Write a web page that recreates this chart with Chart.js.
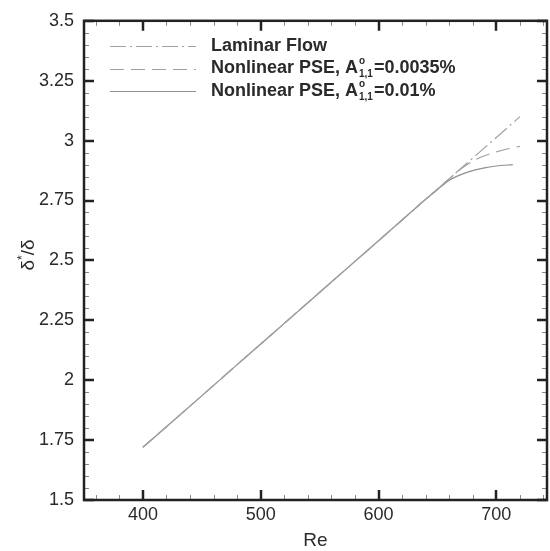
<!DOCTYPE html>
<html><head><meta charset="utf-8">
<script src="https://cdn.jsdelivr.net/npm/chart.js@4"></script>
<style>html,body{margin:0;padding:0;background:#fff;}canvas{display:block;}</style>
</head><body>
<canvas id="c" width="550" height="551"></canvas>
<script>
// ---- data ----
const reLaminar = [400, 440, 480, 520, 560, 600, 640, 660, 680, 700, 720];
const laminar   = [1.72, 1.892, 2.065, 2.237, 2.41, 2.582, 2.755, 2.841, 2.927, 3.013, 3.10];

const reDashed  = [400, 440, 480, 520, 560, 600, 640, 660, 670, 680, 690, 700, 710, 720];
const dashed    = [1.72, 1.892, 2.065, 2.237, 2.41, 2.582, 2.755, 2.841, 2.882, 2.915, 2.937, 2.953, 2.966, 2.976];

const reSolid   = [400, 440, 480, 520, 560, 600, 640, 650, 660, 670, 680, 690, 700, 714];
const solid     = [1.72, 1.892, 2.065, 2.237, 2.41, 2.582, 2.755, 2.795, 2.835, 2.858, 2.875, 2.886, 2.894, 2.90];

const xTicks = [400, 500, 600, 700];
const yTicks = [1.5, 1.75, 2, 2.25, 2.5, 2.75, 3, 3.25, 3.5];
const xRange = [350, 743];
const yRange = [1.5, 3.5];

const legendItems = [
  {main: 'Laminar Flow'},
  {main: 'Nonlinear PSE, A', sup: 'o', sub: '1,1', tail: '=0.0035%'},
  {main: 'Nonlinear PSE, A', sup: 'o', sub: '1,1', tail: '=0.01%'}
];

const toXY = (xs, ys) => xs.map((x, i) => ({x, y: ys[i]}));
const TXT = '#2a2a2a';
const FONT = 'Arial, "Liberation Sans", sans-serif';

const framePlugin = {
  id: 'frame',
  afterDatasetsDraw(chart) {
    const {ctx, chartArea: a, scales} = chart;
    const xs = scales.x, ys = scales.y;
    ctx.save();
    // minor ticks
    ctx.strokeStyle = '#888';
    ctx.lineWidth = 1;
    ctx.beginPath();
    for (let v = 360; v <= 740; v += 20) {
      if (v % 100 === 0) continue;
      const px = Math.round(xs.getPixelForValue(v)) + 0.5;
      ctx.moveTo(px, a.bottom); ctx.lineTo(px, a.bottom - 5);
      ctx.moveTo(px, a.top); ctx.lineTo(px, a.top + 5);
    }
    for (let k = 0; k <= 40; k++) {
      if (k % 5 === 0) continue;
      const v = 1.5 + k * 0.05;
      const py = Math.round(ys.getPixelForValue(v)) + 0.5;
      ctx.moveTo(a.left, py); ctx.lineTo(a.left + 5, py);
      ctx.moveTo(a.right, py); ctx.lineTo(a.right - 5, py);
    }
    ctx.stroke();
    // major ticks
    ctx.strokeStyle = '#222';
    ctx.lineWidth = 2.5;
    ctx.beginPath();
    xTicks.forEach(v => {
      const px = Math.round(xs.getPixelForValue(v));
      ctx.moveTo(px, a.bottom); ctx.lineTo(px, a.bottom - 10);
      ctx.moveTo(px, a.top); ctx.lineTo(px, a.top + 10);
    });
    yTicks.forEach(v => {
      const py = Math.round(ys.getPixelForValue(v));
      ctx.moveTo(a.left, py); ctx.lineTo(a.left + 10, py);
      ctx.moveTo(a.right, py); ctx.lineTo(a.right - 10, py);
    });
    ctx.stroke();
    // frame
    ctx.lineWidth = 2.5;
    ctx.strokeStyle = '#222';
    ctx.strokeRect(a.left, a.top, a.right - a.left, a.bottom - a.top);

    // axis titles
    ctx.fillStyle = TXT;
    ctx.textBaseline = 'middle';
    ctx.font = '19px ' + FONT;
    ctx.textAlign = 'center';
    ctx.fillText('Re', (a.left + a.right) / 2, 541);

    // y title: δ*/δ rotated
    ctx.save();
    ctx.translate(29, 255);
    ctx.rotate(-Math.PI / 2);
    ctx.textAlign = 'left';
    ctx.font = '19px ' + FONT;
    const w1 = ctx.measureText('δ').width;
    ctx.font = '12px ' + FONT;
    const w2 = ctx.measureText('*').width;
    ctx.font = '19px ' + FONT;
    const w3 = ctx.measureText('/δ').width;
    let x0 = -(w1 + w2 + w3) / 2;
    ctx.fillText('δ', x0, 0);
    ctx.font = '12px ' + FONT;
    ctx.fillText('*', x0 + w1, -6);
    ctx.font = '19px ' + FONT;
    ctx.fillText('/δ', x0 + w1 + w2, 0);
    ctx.restore();

    // legend
    const rowsY = [46, 68.5, 91];
    const ds = chart.data.datasets;
    legendItems.forEach((it, i) => {
      const y = rowsY[i];
      const d = ds[i];
      ctx.save();
      ctx.strokeStyle = d.borderColor;
      ctx.lineWidth = d.borderWidth;
      ctx.setLineDash(d.borderDash || []);
      ctx.beginPath();
      ctx.moveTo(110, Math.round(y) + 0.5);
      ctx.lineTo(196, Math.round(y) + 0.5);
      ctx.stroke();
      ctx.restore();
      ctx.fillStyle = TXT;
      ctx.textAlign = 'left';
      ctx.textBaseline = 'middle';
      ctx.font = 'bold 18px ' + FONT;
      let x = 211;
      ctx.fillText(it.main, x, y);
      x += ctx.measureText(it.main).width;
      if (it.sup) {
        ctx.font = 'bold 10px ' + FONT;
        ctx.fillText(it.sup, x + 1, y - 7);
        const ws = ctx.measureText(it.sup).width;
        ctx.fillText(it.sub, x + 1, y + 6);
        const wb = ctx.measureText(it.sub).width;
        x += Math.max(ws, wb) + 2;
        ctx.font = 'bold 18px ' + FONT;
        ctx.fillText(it.tail, x, y);
      }
    });
    ctx.restore();
  }
};

new Chart(document.getElementById('c'), {
  type: 'line',
  data: {
    datasets: [
      {label: 'Laminar Flow', data: toXY(reLaminar, laminar), borderColor: '#a0a0a0', borderWidth: 1.2, borderDash: [16, 4, 2, 4], pointRadius: 0, fill: false, tension: 0},
      {label: 'Nonlinear PSE, A=0.0035%', data: toXY(reDashed, dashed), borderColor: '#a0a0a0', borderWidth: 1.2, borderDash: [14, 7], pointRadius: 0, fill: false, tension: 0.3},
      {label: 'Nonlinear PSE, A=0.01%', data: toXY(reSolid, solid), borderColor: '#909090', borderWidth: 1.2, pointRadius: 0, fill: false, tension: 0.3}
    ]
  },
  options: {
    responsive: false,
    animation: false,
    layout: {padding: {top: 18, right: 3, left: 0, bottom: 0}},
    plugins: {legend: {display: false}, tooltip: {enabled: false}},
    scales: {
      x: {
        type: 'linear', min: xRange[0], max: xRange[1],
        grid: {display: false, drawTicks: false},
        border: {display: false},
        afterBuildTicks: s => { s.ticks = xTicks.map(v => ({value: v})); },
        afterFit: s => { s.height = 51; },
        ticks: {color: TXT, font: {size: 18, family: FONT}, padding: 4, callback: v => String(v), maxRotation: 0}
      },
      y: {
        type: 'linear', min: yRange[0], max: yRange[1],
        grid: {display: false, drawTicks: false},
        border: {display: false},
        afterBuildTicks: s => { s.ticks = yTicks.map(v => ({value: v})); },
        afterFit: s => { s.width = 84; },
        ticks: {color: TXT, font: {size: 18, family: FONT}, padding: 10, callback: v => String(v)}
      }
    }
  },
  plugins: [framePlugin]
});
</script>
</body></html>
